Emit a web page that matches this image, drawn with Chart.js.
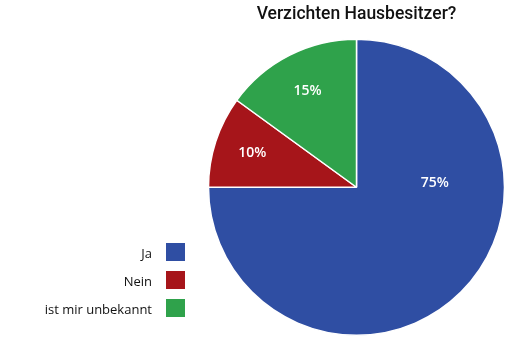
<!DOCTYPE html>
<html>
<head>
<meta charset="utf-8">
<script src="https://cdn.jsdelivr.net/npm/chart.js@4"></script>
<style>
    html, body {margin: 0; padding: 0; background: #ffffff;}
    #wrap {width: 506px; height: 337px; position: relative;}
</style>
</head>
<body>
<div id="wrap"><canvas id="chartCanvas"></canvas></div>
<script>
"use strict";

// Data
const titleText = "Verzichten Hausbesitzer?";
const categories = ["Ja", "Nein", "ist mir unbekannt"];
const shares = [75, 10, 15];
const sliceColors = ["#2f4ea3", "#a6151a", "#2fa24b"];

// Percent labels inside the slices
const sliceLabelPlugin = {
    id: "sliceLabels",
    afterDatasetsDraw(chart, args, opts) {
        const ctx = chart.ctx;
        const arcs = chart.getDatasetMeta(0).data;
        ctx.save();
        ctx.fillStyle = "#ffffff";
        ctx.font = "600 14px 'Open Sans'";
        ctx.textAlign = "center";
        ctx.textBaseline = "middle";
        arcs.forEach((arc, i) => {
            let a = (arc.startAngle + arc.endAngle) / 2;
            if (opts.angle[i] !== null) a = opts.angle[i] * Math.PI / 180;
            const r = arc.outerRadius * opts.radius[i];
            ctx.fillText(shares[i] + "%", arc.x + Math.cos(a) * r, arc.y + Math.sin(a) * r);
        });
        ctx.restore();
    }
};

// Legend on the left: text right aligned, colour box right of it
const sideLegendPlugin = {
    id: "sideLegend",
    afterDraw(chart, args, opts) {
        const ctx = chart.ctx;
        ctx.save();
        ctx.font = "13px 'Open Sans'";
        ctx.textAlign = "right";
        ctx.textBaseline = "middle";
        categories.forEach((c, i) => {
            const y = opts.top + i * opts.step;
            ctx.fillStyle = sliceColors[i];
            ctx.fillRect(opts.boxX, y, 19, 18);
            ctx.fillStyle = "#111111";
            ctx.fillText(c, opts.textX, y + 11);
        });
        ctx.restore();
    }
};

function handleOnLoad() {
    const config = {
        type: "pie",
        data: {
            labels: categories,
            datasets: [{
                data: shares,
                backgroundColor: sliceColors,
                borderColor: "#ffffff",
                borderWidth: 1.5
            }]
        },
        options: {
            responsive: true,
            maintainAspectRatio: false,
            animation: false,
            layout: {padding: {left: 207, right: 0, top: 0, bottom: 1}},
            plugins: {
                legend: {display: false},
                tooltip: {enabled: false},
                title: {
                    display: true,
                    text: titleText,
                    color: "#111111",
                    font: {family: "Roboto", size: 17.5, weight: "500", lineHeight: 1.2},
                    padding: {top: 4, bottom: 13.5}
                },
                sliceLabels: {radius: [0.53, 0.74, 0.73], angle: [-3, null, null]},
                sideLegend: {top: 243, step: 28, boxX: 166, textX: 152}
            }
        },
        plugins: [sliceLabelPlugin, sideLegendPlugin]
    };

    const ctx = document.getElementById("chartCanvas").getContext("2d");
    new Chart(ctx, config);
}

handleOnLoad();
</script>
</body>
</html>
